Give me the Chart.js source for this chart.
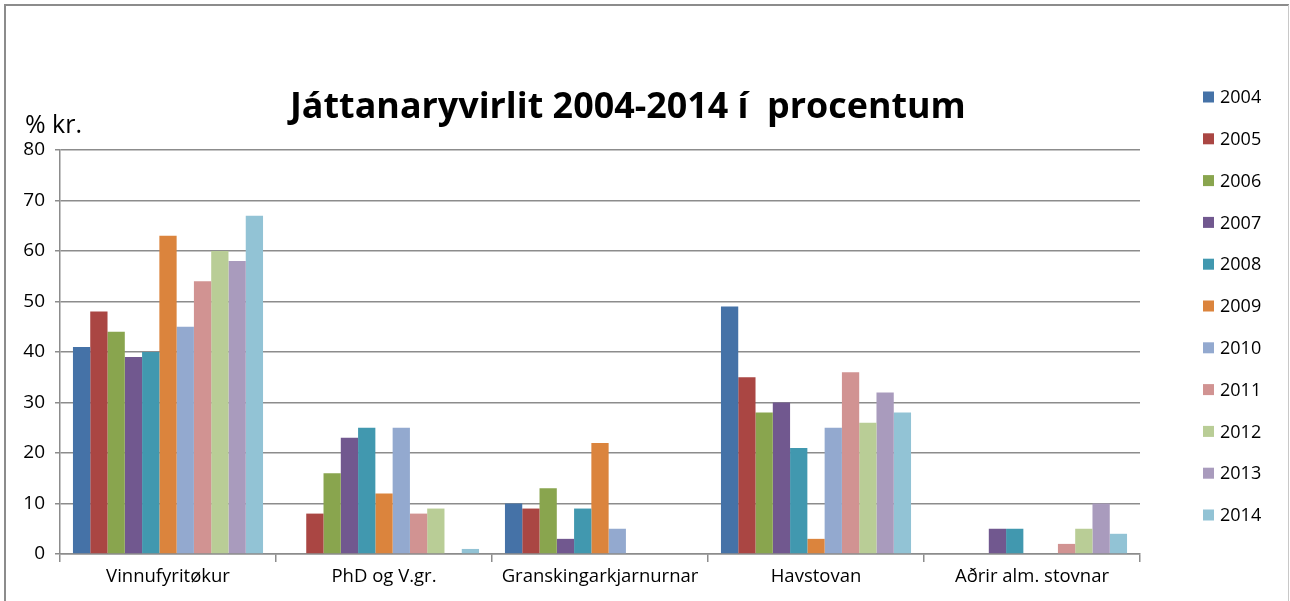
<!DOCTYPE html>
<html><head><meta charset="utf-8">
<script src="https://cdn.jsdelivr.net/npm/chart.js@4/dist/chart.umd.min.js"></script>
<style>html,body{margin:0;padding:0;background:#fff}#wrap{width:1290px;height:601px;position:relative}</style>
</head><body><div id="wrap"><canvas id="c" width="1290" height="601"></canvas></div>
<script>
const categories = ["Vinnufyritøkur", "PhD og V.gr.", "Granskingarkjarnurnar", "Havstovan", "Aðrir alm. stovnar"];
const years = ["2004","2005","2006","2007","2008","2009","2010","2011","2012","2013","2014"];
const v2004 = [41, 0, 10, 49, 0];
const v2005 = [48, 8, 9, 35, 0];
const v2006 = [44, 16, 13, 28, 0];
const v2007 = [39, 23, 3, 30, 5];
const v2008 = [40, 25, 9, 21, 5];
const v2009 = [63, 12, 22, 3, 0];
const v2010 = [45, 25, 5, 25, 0];
const v2011 = [54, 8, 0, 36, 2];
const v2012 = [60, 9, 0, 26, 5];
const v2013 = [58, 0, 0, 32, 10];
const v2014 = [67, 1, 0, 28, 4];
const yTicks = [0,10,20,30,40,50,60,70,80];
const titleText = "Játtanaryvirlit 2004-2014 í  procentum";
const yAxisTitle = "% kr.";

const seriesValues = [v2004,v2005,v2006,v2007,v2008,v2009,v2010,v2011,v2012,v2013,v2014];
const colors = ["#4572A7","#AA4643","#89A54E","#71588F","#4198AF","#DB843D","#93A9CF","#D19392","#B9CD96","#A99BBD","#92C3D5"];
const FONT = "'Open Sans', sans-serif";
const GRID = "#8c8c8c";

function fitFont(ctx, text, weight, target, base) {
  ctx.font = weight + " " + base + "px " + FONT;
  const w = ctx.measureText(text).width;
  const size = base * target / w;
  ctx.font = weight + " " + size.toFixed(2) + "px " + FONT;
}

const decor = {
  id: 'decor',
  afterDraw(chart) {
    const ctx = chart.ctx;
    ctx.save();
    ctx.strokeStyle = GRID; ctx.lineWidth = 2;
    ctx.beginPath();
    ctx.moveTo(5, 601); ctx.lineTo(5, 5); ctx.lineTo(1289, 5);
    ctx.stroke();
    ctx.strokeStyle = "#c8c8c8"; ctx.lineWidth = 1;
    ctx.beginPath(); ctx.moveTo(1288.5, 5); ctx.lineTo(1288.5, 601); ctx.stroke();
    ctx.fillStyle = "#000";
    fitFont(ctx, titleText, "bold", 676, 32);
    ctx.textAlign = "left"; ctx.textBaseline = "alphabetic";
    ctx.fillText(titleText, 290, 118);
    fitFont(ctx, yAxisTitle, "normal", 57, 22);
    ctx.fillText(yAxisTitle, 25, 133);
    ctx.font = "18px " + FONT;
    ctx.textBaseline = "middle";
    chart.data.datasets.forEach((ds, i) => {
      const y = 97 + i * 41.8;
      ctx.fillStyle = ds.backgroundColor;
      ctx.fillRect(1203, y - 5.5, 11, 11);
      ctx.fillStyle = "#000";
      ctx.fillText(ds.label, 1220, y + 1);
    });
    ctx.restore();
  }
};

new Chart(document.getElementById('c'), {
  type: 'bar',
  data: {
    labels: categories,
    datasets: years.map((y, i) => ({
      label: y,
      data: seriesValues[i],
      backgroundColor: colors[i],
      borderWidth: 0,
      barPercentage: 1,
      categoryPercentage: 0.88
    }))
  },
  options: {
    responsive: false,
    animation: false,
    devicePixelRatio: 1,
    layout: { padding: { top: 150, right: 150, left: 0, bottom: 0 } },
    plugins: { legend: { display: false }, title: { display: false }, tooltip: { enabled: false } },
    scales: {
      x: {
        offset: true,
        grid: { offset: true, drawOnChartArea: false, drawTicks: true, tickLength: 8, color: GRID, lineWidth: 1.5 },
        border: { color: GRID, width: 1.5 },
        ticks: { font: { family: FONT, size: 18.5 }, color: "#000", padding: 4, maxRotation: 0 },
        afterFit(s) { s.height = 47; }
      },
      y: {
        min: 0, max: 80,
        afterBuildTicks(s) { s.ticks = yTicks.map(v => ({ value: v })); },
        grid: { color: GRID, lineWidth: 1.5, tickLength: 5 },
        border: { color: GRID, width: 1.5 },
        ticks: { font: { family: FONT, size: 19 }, color: "#000", padding: 10 },
        afterFit(s) { s.width = 60; }
      }
    }
  },
  plugins: [decor]
});
</script></body></html>
